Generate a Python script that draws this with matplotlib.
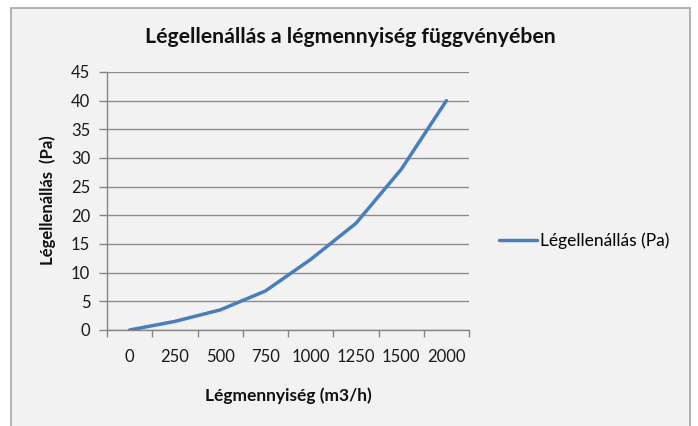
import matplotlib
matplotlib.use("Agg")
import matplotlib.pyplot as plt
from matplotlib.patches import Rectangle

categories = ["0", "250", "500", "750", "1000", "1250", "1500", "2000"]
values = [0, 1.5, 3.5, 6.8, 12.3, 18.6, 28, 40]
series_name = "Légellenállás (Pa)"
title = "Légellenállás a légmennyiség függvényében"
xlabel = "Légmennyiség (m3/h)"
ylabel = "Légellenállás  (Pa)"
yticks = [0, 5, 10, 15, 20, 25, 30, 35, 40, 45]

W, H = 698, 426
plt.rcParams['font.family'] = ['Lato', 'DejaVu Sans']
fig = plt.figure(figsize=(W/100, H/100), dpi=100)
fig.patch.set_facecolor('white')

# chart area background with border
bg = Rectangle((11/W, -0.01), (690-11)/W, 1 - 8/H + 0.01,
               transform=fig.transFigure, facecolor='#f2f2f2',
               edgecolor='#a6a6a6', linewidth=1.2, zorder=-10)
fig.add_artist(bg)

ax = fig.add_axes([107/W, 1-330/H, (469-107)/W, (330-72)/H])
ax.set_facecolor('none')
ax.set_zorder(5)

xs = [i + 0.5 for i in range(len(categories))]
line, = ax.plot(xs, values, color='#4a7ebb', linewidth=2.5, solid_capstyle='round')

ax.set_xlim(0, len(categories))
ax.set_ylim(0, 45)
ax.set_yticks(yticks)
ax.set_xticks(range(len(categories)+1))
ax.set_xticklabels([])
ax.set_xticks(xs, minor=True)
ax.set_xticklabels(categories, minor=True)
ax.tick_params(axis='x', which='major', direction='out', length=5, color='#868686', width=1)
ax.tick_params(axis='x', which='minor', length=0, pad=14, labelsize=12, labelcolor='#1a1a1a')
ax.tick_params(axis='y', direction='out', length=6, color='#868686', width=1, pad=6,
               labelsize=12, labelcolor='#1a1a1a')

ax.grid(axis='y', color='#8c8c8c', linewidth=1)
ax.set_axisbelow(True)
for s in ['top', 'right']:
    ax.spines[s].set_visible(False)
for s in ['left', 'bottom']:
    ax.spines[s].set_color('#868686')
    ax.spines[s].set_linewidth(1)

fig.text(350/W, 1-37/H, title, ha='center', va='center', fontsize=15.3, fontweight='bold', color='#111111')
fig.text(288/W, 1-396/H, xlabel, ha='center', va='center', fontsize=12.5, fontweight='bold', color='#111111')
fig.text(48/W, 1-200/H, ylabel, ha='center', va='center', rotation=90, fontsize=12, fontweight='bold', color='#111111')

fig.legend([line], [series_name], loc='center left', bbox_to_anchor=(492/W, 1-241/H),
           frameon=False, fontsize=12.5, handlelength=2.2, handletextpad=0.15, borderaxespad=0)

fig.savefig('out.png', dpi=100)
